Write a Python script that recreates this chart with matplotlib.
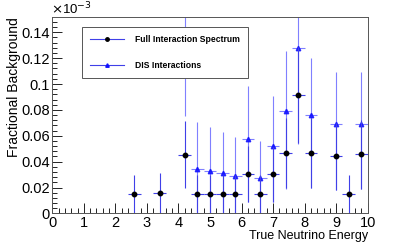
import matplotlib
matplotlib.use("Agg")
import matplotlib.pyplot as plt
from matplotlib.ticker import MultipleLocator
from matplotlib.lines import Line2D

plt.rcParams['font.family'] = ['Liberation Sans', 'DejaVu Sans']

# Full interaction spectrum (black circles), bin width 0.4
full_x = [2.6, 3.4, 4.2, 4.6, 5.0, 5.4, 5.8, 6.2, 6.6, 7.0, 7.4, 7.8, 8.2, 9.0, 9.4, 9.8]
full_y = [0.0147, 0.0157, 0.0453, 0.0147, 0.0147, 0.0147, 0.0147, 0.0304,
          0.0147, 0.0301, 0.0464, 0.0914, 0.0466, 0.0440, 0.0147, 0.0456]
full_err = [0.0147, 0.0157, 0.0260, 0.0147, 0.0147, 0.0147, 0.0147, 0.0215,
            0.0147, 0.0213, 0.0270, 0.0373, 0.0270, 0.0260, 0.0147, 0.0265]

# DIS interactions (blue triangles)
dis_x = [4.2, 4.6, 5.0, 5.4, 5.8, 6.2, 6.6, 7.0, 7.4, 7.8, 8.2, 9.0, 9.8]
dis_y = [0.170, 0.0345, 0.0329, 0.0309, 0.0291, 0.0572, 0.0275, 0.0522,
         0.0793, 0.128, 0.0760, 0.0688, 0.0688]
dis_lo = [0.095, 0.0345, 0.0329, 0.0309, 0.0291, 0.0487, 0.0275, 0.0437,
          0.0603, 0.0744, 0.0566, 0.0505, 0.0498]
dis_hi = [0.070, 0.0361, 0.0335, 0.0319, 0.0301, 0.0412, 0.0286, 0.0382,
          0.0461, 0.0600, 0.0443, 0.0404, 0.0406]

bin_half = 0.2

fig = plt.figure(figsize=(4.09, 2.45), dpi=100)
ax = fig.add_axes([0.128, 0.129, 0.771, 0.800])

ax.errorbar(full_x, full_y, xerr=bin_half, yerr=full_err, fmt='o', color='black',
            ms=3.2, ecolor='#4040e8', elinewidth=0.8, capsize=0, zorder=3)
ax.errorbar(dis_x, dis_y, xerr=bin_half, yerr=[dis_lo, dis_hi], fmt='^', color='#1010ff',
            ms=3.2, ecolor='#6a6aff', elinewidth=0.8, capsize=0, alpha=0.85, zorder=2)

ax.set_xlim(0, 10)
ax.set_ylim(0, 0.1515)
ax.xaxis.set_major_locator(MultipleLocator(1))
ax.xaxis.set_minor_locator(MultipleLocator(0.2))
ax.yaxis.set_major_locator(MultipleLocator(0.02))
ax.yaxis.set_minor_locator(MultipleLocator(0.004))
ax.tick_params(which='both', direction='in', top=False, right=False, labelsize=10.5,
               width=0.6, pad=2)
ax.tick_params(which='major', length=7.5)
ax.tick_params(which='minor', length=3.8)
ax.set_yticks([0, 0.02, 0.04, 0.06, 0.08, 0.1, 0.12, 0.14])
ax.set_yticklabels(['0', '0.02', '0.04', '0.06', '0.08', '0.1', '0.12', '0.14'])
for s in ax.spines.values():
    s.set_linewidth(0.7)
    s.set_color('#555555')

ax.set_xlabel('True Neutrino Energy', fontsize=9, loc='right', labelpad=0)
ax.set_ylabel('Fractional Background', fontsize=10, loc='top', labelpad=0)
fig.text(0.125, 0.997, r'$\times$10$^{-3}$', fontsize=9.5, ha='left', va='top')

handles = [
    Line2D([], [], color='#4040e8', lw=0.8, marker='o', mfc='black', mec='black', ms=2.5),
    Line2D([], [], color='#4040e8', lw=0.8, marker='^', mfc='#1010ff', mec='#1010ff', ms=2.5),
]
leg = ax.legend(handles, ['Full Interaction Spectrum', 'DIS Interactions'],
                loc='upper left', bbox_to_anchor=(0.093, 0.95), fancybox=False,
                framealpha=1, edgecolor='#555555', prop={'weight': 'bold', 'size': 6.2},
                handlelength=4.0, labelspacing=1.9, borderpad=0.95, handletextpad=1.2,
                borderaxespad=0)
leg.get_frame().set_linewidth(0.7)

fig.savefig('out.png', dpi=100)
